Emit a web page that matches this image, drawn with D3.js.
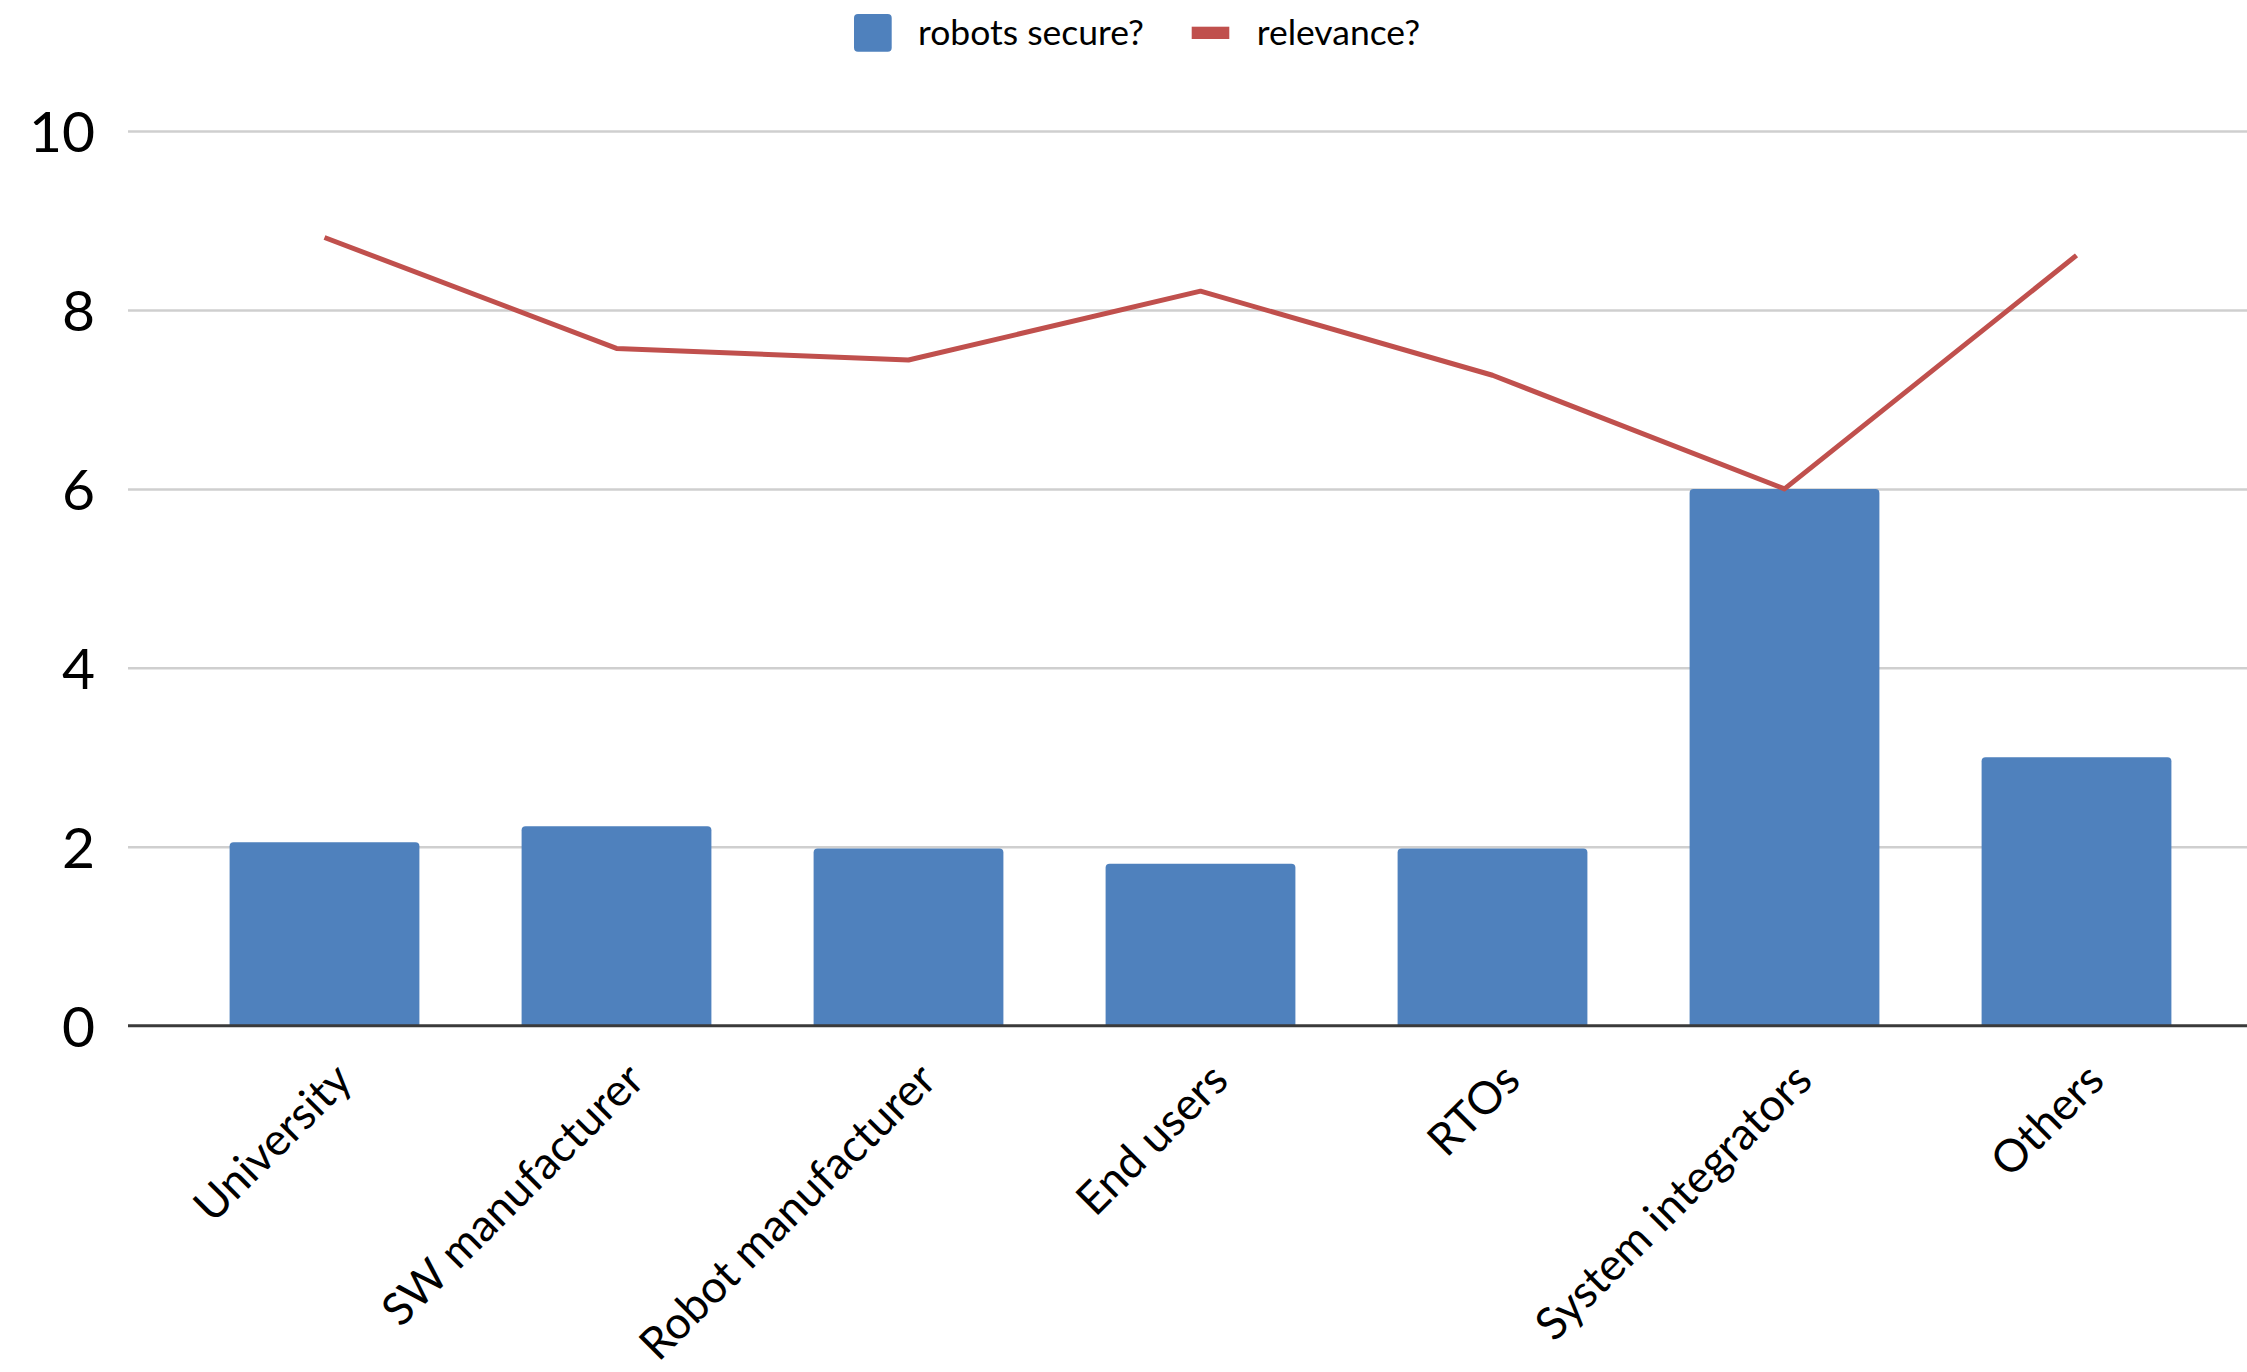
<!DOCTYPE html>
<html>
<head>
<meta charset="utf-8">
<script src="https://cdn.jsdelivr.net/npm/d3@7"></script>
<style>
  html, body { margin: 0; padding: 0; background: #ffffff; }
  svg { display: block; }
  text { font-family: Lato, "Open Sans", sans-serif; fill: #000; }
</style>
</head>
<body>
<svg id="chart" width="2247" height="1372"></svg>
<script>
// Respondent groups along the category axis
const categories = ["University", "SW manufacturer", "Robot manufacturer", "End users", "RTOs", "System integrators", "Others"];
// Average answer to "are robots secure?" per group (bars)
const secureValues = [2.05, 2.23, 1.98, 1.81, 1.98, 6.0, 3.0];
// Average answer to "relevance?" per group (line)
const relevanceValues = [8.81, 7.57, 7.44, 8.21, 7.27, 6.0, 8.61];
// Value axis ticks
const yTicks = [0, 2, 4, 6, 8, 10];
const seriesNames = ["robots secure?", "relevance?"];

const W = 2247, H = 1372;
const plotLeft = 128, plotRight = W, yTop = 131, yBottom = 1025.7;
const barColor = "#4F81BD", lineColor = "#C0504D";

const svg = d3.select("#chart");

const x = d3.scaleBand()
  .domain(categories)
  .range([178.5, 2222.5])
  .paddingInner(0.35)
  .paddingOuter(0.175);

const y = d3.scaleLinear().domain([0, 10]).range([yBottom, yTop]);

// Horizontal gridlines
const grid = svg.append("g")
  .attr("transform", `translate(${plotLeft},0)`)
  .call(d3.axisLeft(y).tickValues(yTicks.filter(t => t > 0)).tickSize(-(plotRight - plotLeft)).tickFormat(""));
grid.select(".domain").remove();
grid.selectAll(".tick line").attr("stroke", "#cfcfcf").attr("stroke-width", 2.5);

// Value axis labels
const yAxis = svg.append("g")
  .attr("transform", `translate(95,0)`)
  .call(d3.axisLeft(y).tickValues(yTicks).tickSize(0).tickPadding(0).tickFormat(d3.format("d")));
yAxis.select(".domain").remove();
yAxis.selectAll(".tick text")
  .attr("font-size", 57)
  .attr("font-family", "Lato, sans-serif")
  .attr("fill", "#000")
  .attr("dy", "0.36em");

// Bars with slightly rounded top corners
const r = 4;
svg.append("g").selectAll("path")
  .data(categories.map((c, i) => ({ c, v: secureValues[i] })))
  .join("path")
  .attr("fill", barColor)
  .attr("d", d => {
    const x0 = x(d.c), x1 = x0 + x.bandwidth();
    const yt = y(d.v), yb = y(0);
    return `M${x0},${yb}V${yt + r}Q${x0},${yt} ${x0 + r},${yt}H${x1 - r}Q${x1},${yt} ${x1},${yt + r}V${yb}Z`;
  });

// Category axis baseline
svg.append("line")
  .attr("x1", plotLeft).attr("x2", plotRight)
  .attr("y1", y(0)).attr("y2", y(0))
  .attr("stroke", "#3a3a3a").attr("stroke-width", 3);

// Relevance line
const line = d3.line()
  .x((d, i) => x(categories[i]) + x.bandwidth() / 2)
  .y(d => y(d));
svg.append("path")
  .datum(relevanceValues)
  .attr("fill", "none")
  .attr("stroke", lineColor)
  .attr("stroke-width", 5)
  .attr("stroke-linejoin", "round")
  .attr("d", line);

// Rotated category labels
const xAxis = svg.append("g")
  .attr("transform", `translate(0,${yBottom})`)
  .call(d3.axisBottom(x).tickSize(0).tickPadding(0));
xAxis.select(".domain").remove();
xAxis.selectAll(".tick text")
  .attr("font-size", 45)
  .attr("font-family", "Lato, sans-serif")
  .attr("fill", "#000")
  .attr("text-anchor", "end")
  .attr("dy", null)
  .attr("y", 0)
  .attr("transform", "translate(30,57) rotate(-45)");

// Legend
const legend = svg.append("g");
legend.append("rect")
  .attr("x", 854).attr("y", 14).attr("width", 37.7).attr("height", 37.7)
  .attr("rx", 4).attr("fill", barColor);
legend.append("text")
  .attr("x", 918).attr("y", 33).attr("dy", "0.35em")
  .attr("font-size", 35.5).attr("fill", "#1a1a1a")
  .text(seriesNames[0]);
legend.append("rect")
  .attr("x", 1191.7).attr("y", 26.7).attr("width", 37.6).attr("height", 12.3)
  .attr("fill", lineColor);
legend.append("text")
  .attr("x", 1256.7).attr("y", 33).attr("dy", "0.35em")
  .attr("font-size", 35.5).attr("fill", "#1a1a1a")
  .text(seriesNames[1]);
</script>
</body>
</html>
